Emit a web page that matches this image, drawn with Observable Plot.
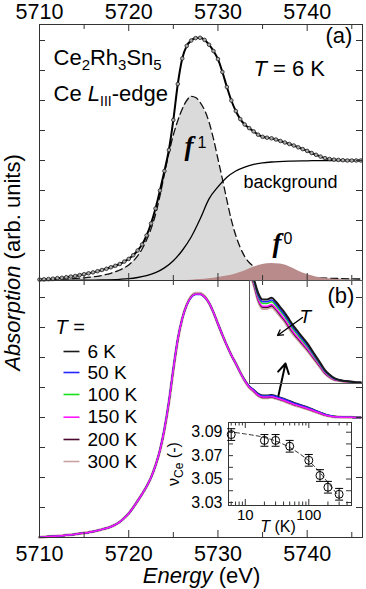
<!DOCTYPE html>
<html><head><meta charset="utf-8">
<script src="https://cdn.jsdelivr.net/npm/d3@7"></script>
<script src="https://cdn.jsdelivr.net/npm/@observablehq/plot@0.6"></script>
<style>
html,body{margin:0;padding:0;background:#fff;}
#fig{position:relative;width:366px;height:589px;overflow:hidden;background:#fff;}
#fig svg{position:absolute;left:0;top:0;}
</style></head><body><div id="fig"></div>
<script>
// ---------- data ----------
const energy = [5710,5710.5,5711,5711.5,5712,5712.5,5713,5713.5,5714,5714.5,5715,5715.5,5716,5716.5,5717,5717.5,5718,5718.5,5719,5719.5,
5720,5720.5,5721,5721.5,5722,5722.5,5723,5723.5,5724,5724.5,5725,5725.5,5726,5726.5,5727,5727.5,5728,5728.5,5729,5729.5,
5730,5730.5,5731,5731.5,5732,5732.5,5733,5733.5,5734,5734.5,5735,5735.5,5736,5736.5,5737,5737.5,5738,5738.5,5739,5739.5,
5740,5740.5,5741,5741.5,5742,5742.5,5743,5743.5,5744,5744.5,5745,5745.5,5746];
// panel (a): measured total absorption at 6 K
const totalA = [0.03,0.04,0.05,0.06,0.08,0.09,0.11,0.13,0.15,0.18,0.21,0.24,0.27,0.31,0.35,0.39,0.44,0.49,0.55,0.63,
0.72,0.84,1.0,1.2,1.5,1.9,2.4,3.0,3.65,4.35,5.35,6.55,7.4,7.82,8.0,8.08,8.09,8.02,7.86,7.65,
7.38,6.95,6.45,6.0,5.65,5.38,5.2,5.08,4.97,4.86,4.79,4.76,4.74,4.7,4.65,4.6,4.55,4.5,4.44,4.38,
4.32,4.25,4.19,4.13,4.08,4.05,4.03,4.02,4.01,4.0,4.0,4.0,4.0];
const f1E = [5710,5712,5714,5715,5716,5717,5718,5719,5720,5721,5721.5,5722,5722.5,5723,5723.5,5724,5724.5,5725,5725.5,5726,5726.5,5727,5727.5,5728,5728.5,5729,5729.5,5730,5730.5,5731,5731.5,5732,5732.5,5733,5733.5,5734,5735,5736,5737,5738,5740,5743,5746];
const f1V = [0.02,0.04,0.07,0.09,0.12,0.17,0.24,0.35,0.52,0.82,1.05,1.35,1.72,2.2,2.82,3.55,4.25,4.85,5.33,5.72,6.0,6.14,6.1,5.94,5.68,5.28,4.72,4.05,3.38,2.68,2.02,1.5,1.1,0.8,0.6,0.47,0.33,0.25,0.2,0.16,0.11,0.07,0.05];
const bgE = [5710,5714,5717,5719,5720,5721,5722,5723,5724,5725,5726,5727,5728,5729,5730,5731,5732,5733,5734,5735,5736,5738,5740,5743,5746.2];
const bgV = [0,0.01,0.02,0.04,0.06,0.1,0.16,0.26,0.42,0.66,1.0,1.45,2.05,2.72,3.12,3.44,3.65,3.78,3.87,3.92,3.95,3.98,3.99,4.0,4.0];
const f0E = [5726,5727,5728,5729,5730,5731,5732,5733,5734,5735,5736,5737,5738,5739,5740,5741,5742,5743,5744,5745,5746];
const f0V = [0,0.01,0.03,0.06,0.1,0.15,0.22,0.32,0.44,0.53,0.57,0.55,0.46,0.32,0.2,0.12,0.07,0.04,0.02,0.01,0];

// panel (b): temperature series
const tempLabels = ["6 K","50 K","100 K","150 K","200 K","300 K"];
const tempColors = ["#1a1a1a","#2424ff","#18e018","#ff14ff","#4a0830","#c9a3a3"];
const abs6 = [0.01,0.02,0.03,0.04,0.05,0.06,0.08,0.09,0.11,0.13,0.15,0.17,0.2,0.23,0.27,0.31,0.36,0.43,0.52,0.65,
0.8,1.0,1.22,1.45,1.7,2.0,2.4,2.9,3.6,4.5,5.6,6.6,7.3,7.75,8.02,8.12,8.12,8.02,7.82,7.5,
7.12,6.75,6.4,6.08,5.8,5.5,5.25,5.05,4.93,4.8,4.74,4.74,4.755,4.72,4.67,4.62,4.56,4.5,4.45,4.4,
4.35,4.29,4.23,4.17,4.11,4.07,4.04,4.025,4.015,4.01,4.005,4.0,4.0];
const abs50 = [0.01,0.02,0.03,0.04,0.05,0.06,0.08,0.09,0.11,0.13,0.15,0.17,0.2,0.23,0.27,0.31,0.36,0.43,0.52,0.65,
0.8,1.0,1.22,1.45,1.7,2.0,2.4,2.93,3.64,4.55,5.65,6.63,7.3,7.75,8.0,8.1,8.1,8.01,7.82,7.5,
7.12,6.75,6.4,6.08,5.8,5.5,5.24,5.04,4.92,4.78,4.72,4.72,4.735,4.7,4.65,4.6,4.54,4.48,4.432,4.383,
4.334,4.276,4.218,4.16,4.102,4.064,4.036,4.023,4.014,4.009,4.005,4.0,4.0];
const abs100 = [0.01,0.02,0.03,0.04,0.05,0.06,0.08,0.09,0.11,0.13,0.15,0.17,0.2,0.23,0.27,0.31,0.36,0.43,0.52,0.65,
0.8,1.0,1.22,1.45,1.7,2.0,2.4,2.9,3.6,4.5,5.6,6.6,7.3,7.75,8.02,8.12,8.12,8.02,7.82,7.5,
7.12,6.75,6.4,6.08,5.8,5.5,5.24,5.03,4.905,4.77,4.705,4.705,4.72,4.685,4.635,4.585,4.525,4.467,4.419,4.37,
4.322,4.266,4.209,4.153,4.096,4.06,4.033,4.021,4.013,4.009,4.005,4.0,4.0];
const abs150 = [0.01,0.02,0.03,0.04,0.05,0.06,0.08,0.09,0.11,0.13,0.15,0.17,0.2,0.23,0.27,0.31,0.36,0.43,0.52,0.65,
0.8,1.0,1.22,1.45,1.7,2.0,2.4,2.9,3.6,4.5,5.6,6.6,7.3,7.75,8.02,8.12,8.12,8.02,7.82,7.5,
7.12,6.75,6.4,6.08,5.8,5.5,5.23,5.02,4.89,4.745,4.68,4.68,4.695,4.66,4.61,4.56,4.5,4.443,4.396,4.349,
4.302,4.248,4.194,4.14,4.086,4.052,4.028,4.018,4.011,4.008,4.005,4.0,4.0];
const abs200 = [0.01,0.02,0.03,0.04,0.05,0.06,0.08,0.09,0.11,0.13,0.15,0.17,0.2,0.23,0.27,0.31,0.36,0.43,0.52,0.65,
0.8,1.0,1.22,1.45,1.7,2.0,2.4,2.9,3.6,4.5,5.6,6.6,7.3,7.75,8.02,8.12,8.12,8.02,7.82,7.5,
7.12,6.75,6.4,6.08,5.8,5.5,5.23,5.015,4.88,4.735,4.67,4.67,4.685,4.65,4.6,4.55,4.49,4.433,4.387,4.34,
4.294,4.241,4.188,4.135,4.082,4.049,4.026,4.017,4.011,4.008,4.005,4.0,4.0];
const abs300 = [0.01,0.02,0.03,0.04,0.05,0.06,0.08,0.09,0.11,0.13,0.15,0.17,0.2,0.23,0.27,0.31,0.36,0.43,0.52,0.65,
0.8,1.0,1.22,1.45,1.7,2.0,2.4,2.9,3.6,4.5,5.6,6.6,7.3,7.76,8.04,8.14,8.14,8.03,7.82,7.5,
7.12,6.75,6.4,6.08,5.8,5.5,5.23,5.01,4.875,4.73,4.66,4.66,4.675,4.64,4.59,4.54,4.48,4.424,4.378,4.332,
4.286,4.234,4.182,4.13,4.078,4.046,4.024,4.015,4.01,4.008,4.005,4.0,4.0];
const absByT = [abs6, abs50, abs100, abs150, abs200, abs300];

// inset: Ce valence vs temperature
const nuT = [6,20,30,50,100,150,200,300];
const nuV = [3.088,3.083,3.083,3.078,3.066,3.053,3.043,3.037];
const nuErr = [0.005,0.005,0.005,0.005,0.005,0.005,0.005,0.005];
const fitT = [5.44,10,20,30,50,70,100,150,200,300];
const fitV = [3.0905,3.0885,3.0855,3.0825,3.077,3.072,3.0655,3.0555,3.047,3.035];

// ticks
const xMajor = [5710,5720,5730,5740];
const xMinor = [5715,5725,5735,5745];
const yTicks = [1,2,3,4,5,6,7,8];
const nuTicks = [3.03,3.04,3.05,3.06,3.07,3.08,3.09];
const nuLabels = [3.03,3.05,3.07,3.09];
const logMajor = [10,100];
const logMinor = [6,7,8,9,20,30,40,50,60,70,80,90,200,300,400];

// annotation positions (data coordinates)
const textsA = [
  {t:"Ce2Rh3Sn5", x:5711.57, y:7.167},
  {t:"Ce LIII-edge", x:5711.57, y:6.0},
  {t:"T = 6 K", x:5733.98, y:6.833},
  {t:"(a)", x:5742.05, y:7.933}
];
const bgNote = [{t:"background", x:5732.86, y:3.1}];
const fGlyphs = [{t:"f", x:5726.25, y:4.167},{t:"f", x:5736.11, y:0.95}];
const fSups = [{t:"1", x:5727.71, y:4.433},{t:"0", x:5737.35, y:1.233}];
const legendRows = [6.2,5.5,4.767,4.01,3.267,2.533];
const legendX = [5712.69,5714.48,5715.38];
const arrowBig = [{x1:5736.78,y1:4.73,x2:5737.57,y2:5.8}];
const arrowInset = [{x1:5739.47,y1:4.579,x2:5736.67,y2:4.419}];

// ---------- drawing ----------
const AX = "#333";
const FONT = "'Liberation Sans', Arial, Helvetica, sans-serif";
const SERIF = "'Liberation Serif', 'Times New Roman', serif";
const xDomain = [5710, 5746.2];
const style = {fontFamily: FONT, fontSize: "21px", background: "transparent", color: "#000", overflow: "visible"};
const curve = "monotone-x";

function ticksX(vals, len, fh, side) {
  return Plot.tickX(vals, {x: d => d, stroke: AX, strokeWidth: 1,
    ...(side === "bottom" ? {insetTop: fh - len} : {insetBottom: fh - len})});
}
function ticksY(vals, len, fw, side) {
  return Plot.tickY(vals, {y: d => d, stroke: AX, strokeWidth: 1,
    ...(side === "left" ? {insetRight: fw - len} : {insetLeft: fw - len})});
}

const panelA = Plot.plot({
  width: 366, height: 280, marginTop: 24, marginBottom: 0, marginLeft: 39, marginRight: 4,
  style,
  x: {domain: xDomain, axis: null},
  y: {domain: [0, 256/30], axis: null},
  marks: [
    Plot.areaY(f1V, {x: f1E, y: f1V, fill: "#dadada", curve}),
    Plot.line(f1V, {x: f1E, y: f1V, stroke: "#111", strokeWidth: 1.3, strokeDasharray: "7,4", curve}),
    Plot.areaY(f0V, {x: f0E, y: f0V, fill: "#b98b8b", curve}),
    Plot.line(bgV, {x: bgE, y: bgV, stroke: "#000", strokeWidth: 1.3, curve}),
    Plot.line(totalA, {x: energy, y: totalA, stroke: "#000", strokeWidth: 2, curve}),
    Plot.dot(totalA, {x: energy, y: totalA, r: 1.8, stroke: "#222", strokeWidth: 0.8, fill: "#aaa"}),
    Plot.frame({stroke: AX}),
    ticksX(xMajor, 7, 256, "top"), ticksX(xMinor, 5, 256, "top"),
    ticksX(xMajor, 7, 256, "bottom"), ticksX(xMinor, 5, 256, "bottom"),
    ticksY(yTicks, 6, 323, "left"), ticksY(yTicks, 6, 323, "right"),
    Plot.axisX({anchor: "top", ticks: xMajor, tickSize: 0, tickPadding: 6, tickFormat: d => `${d}`, label: null, fontSize: 21.5}),
    Plot.text(textsA, {x: "x", y: "y", text: "t", fontSize: 22, textAnchor: "start", lineAnchor: "bottom"}),
    Plot.text(bgNote, {x: "x", y: "y", text: "t", fontSize: 18, textAnchor: "start", lineAnchor: "bottom"}),
    Plot.text(fGlyphs, {x: "x", y: "y", text: "t", fontFamily: SERIF, fontWeight: "bold", fontStyle: "italic", fontSize: 27, textAnchor: "start", lineAnchor: "bottom"}),
    Plot.text(fSups, {x: "x", y: "y", text: "t", fontSize: 16, textAnchor: "start", lineAnchor: "bottom"})
  ]
});

const drawOrder = [5, 4, 0, 2, 1, 3];
const legendMarks = [];
tempLabels.forEach((lab, i) => {
  legendMarks.push(Plot.link([legendRows[i]], {x1: legendX[0], x2: legendX[1], y1: d => d, y2: d => d, stroke: tempColors[i], strokeWidth: 1.6}));
  legendMarks.push(Plot.text([lab], {x: legendX[2], y: legendRows[i], text: d => d, fontSize: 19, textAnchor: "start", lineAnchor: "middle"}));
});

const panelB = Plot.plot({
  width: 366, height: 589, marginTop: 280, marginBottom: 52, marginLeft: 39, marginRight: 4,
  style,
  x: {domain: xDomain, axis: null},
  y: {domain: [0, 257/30], axis: null},
  marks: [
    ...drawOrder.map(i => Plot.line(absByT[i], {x: energy, y: absByT[i], stroke: tempColors[i], strokeWidth: i === 5 ? 3 : 1.5, curve})),
    Plot.frame({stroke: AX}),
    ticksX(xMajor, 7, 257, "top"), ticksX(xMinor, 5, 257, "top"),
    ticksX(xMajor, 7, 257, "bottom"), ticksX(xMinor, 5, 257, "bottom"),
    ticksY(yTicks, 6, 323, "left"), ticksY(yTicks, 6, 323, "right"),
    Plot.axisX({anchor: "bottom", ticks: xMajor, tickSize: 0, tickPadding: 8, tickFormat: d => `${d}`, label: null, fontSize: 21.5}),
    Plot.text(["Energy (eV)"], {x: 5728.16, y: -1.5, text: d => d, fontSize: 22, textAnchor: "middle", lineAnchor: "bottom"}),
    Plot.text(["Absorption (arb. units)"], {x: 5707.76, y: 9.167, text: d => d, fontSize: 22, rotate: -90, textAnchor: "middle", lineAnchor: "bottom"}),
    Plot.text(["(b)"], {x: 5742.28, y: 7.833, text: d => d, fontSize: 22, textAnchor: "start", lineAnchor: "bottom"}),
    Plot.text(["T ="], {x: 5711.79, y: 6.8, text: d => d, fontSize: 20, textAnchor: "start", lineAnchor: "bottom"}),
    ...legendMarks,
    Plot.arrow(arrowBig, {x1: "x1", y1: "y1", x2: "x2", y2: "y2", stroke: "#000", strokeWidth: 2, headLength: 9})
  ]
});

const inset1 = Plot.plot({
  width: 366, height: 589, marginLeft: 249, marginRight: 4, marginTop: 280, marginBottom: 206,
  style,
  x: {domain: [5733.53, 5746.2], axis: null},
  y: {domain: [3.99, 4.91], axis: null},
  marks: [
    ...[5, 4, 3, 2, 1, 0].map(i => Plot.line(absByT[i], {x: energy, y: absByT[i], stroke: tempColors[i], strokeWidth: i === 5 ? 2.8 : (i === 0 ? 2 : 1.5), curve, clip: true})),
    Plot.frame({stroke: "#555"}),
    Plot.arrow(arrowInset, {x1: "x1", y1: "y1", x2: "x2", y2: "y2", stroke: "#000", strokeWidth: 1.3, headLength: 7}),
    Plot.text(["T"], {x: 5739.14, y: 4.526, text: d => d, fontSize: 19, fontStyle: "italic", textAnchor: "start", lineAnchor: "bottom"})
  ]
});

const nuLo = nuV.map((v, i) => v - nuErr[i]);
const nuHi = nuV.map((v, i) => v + nuErr[i]);
const capSymbol = {draw(ctx, size) { const w = Math.sqrt(size) / 2; ctx.moveTo(-w, 0); ctx.lineTo(w, 0); }};

const inset2 = Plot.plot({
  width: 366, height: 589, marginLeft: 228, marginRight: 15, marginTop: 422, marginBottom: 84,
  style,
  x: {type: "log", domain: [5.44, 470], axis: null},
  y: {domain: [3.0274, 3.0983], axis: null},
  marks: [
    Plot.frame({fill: "white", stroke: AX}),
    ticksX(logMajor, 6, 83, "bottom"), ticksX(logMinor, 3.5, 83, "bottom"),
    ticksX(logMajor, 6, 83, "top"), ticksX(logMinor, 3.5, 83, "top"),
    ticksY(nuTicks, 5, 123, "left"), ticksY(nuTicks, 5, 123, "right"),
    Plot.line(fitV, {x: fitT, y: fitV, stroke: "#333", strokeWidth: 1, strokeDasharray: "4,3", curve}),
    Plot.ruleX(nuV, {x: nuT, y1: nuLo, y2: nuHi, stroke: "#000", strokeWidth: 1}),
    Plot.dot(nuV, {x: nuT, y: nuLo, symbol: capSymbol, r: 4.5, stroke: "#000", fill: "none", strokeWidth: 1}),
    Plot.dot(nuV, {x: nuT, y: nuHi, symbol: capSymbol, r: 4.5, stroke: "#000", fill: "none", strokeWidth: 1}),
    Plot.dot(nuV, {x: nuT, y: nuV, r: 4, stroke: "#000", fill: "none", strokeWidth: 1}),
    Plot.axisY({anchor: "left", ticks: nuLabels, tickSize: 0, tickPadding: 6, tickFormat: d => d.toFixed(2), label: null, fontSize: 16}),
    Plot.axisX({anchor: "bottom", ticks: logMajor, tickSize: 0, tickPadding: 4, tickFormat: d => `${d}`, label: null, fontSize: 15}),
    Plot.text(["T (K)"], {x: 32.7, y: 3.0051, text: d => d, fontSize: 16, textAnchor: "middle", lineAnchor: "bottom"}),
    Plot.text(["νCe (-)"], {x: 0.92, y: 3.0628, text: d => d, fontSize: 16, rotate: -90, textAnchor: "middle", lineAnchor: "bottom"})
  ]
});

// rich text (italics, sub/superscripts)
const RICH = {
  "Ce2Rh3Sn5": 'Ce<tspan dy="5" font-size="15">2</tspan><tspan dy="-5">Rh</tspan><tspan dy="5" font-size="15">3</tspan><tspan dy="-5">Sn</tspan><tspan dy="5" font-size="15">5</tspan>',
  "Ce LIII-edge": 'Ce <tspan font-style="italic">L</tspan><tspan dy="5" font-size="14">III</tspan><tspan dy="-5">-edge</tspan>',
  "T = 6 K": '<tspan font-style="italic">T</tspan> = 6 K',
  "T =": '<tspan font-style="italic">T</tspan> =',
  "Energy (eV)": '<tspan font-style="italic">Energy</tspan> (eV)',
  "Absorption (arb. units)": '<tspan font-style="italic">Absorption</tspan> (arb. units)',
  "T (K)": '<tspan font-style="italic">T</tspan> (K)',
  "νCe (-)": 'ν<tspan dy="4" font-size="12">Ce</tspan><tspan dy="-4"> (-)</tspan>'
};
function richify(svg) {
  svg.querySelectorAll("text").forEach(t => {
    const k = t.textContent;
    if (RICH[k] && t.children.length === 0) t.innerHTML = RICH[k];
  });
}
const fig = document.getElementById("fig");
[panelB, panelA, inset1, inset2].forEach(s => { richify(s); fig.appendChild(s); });
</script>
</body></html>
